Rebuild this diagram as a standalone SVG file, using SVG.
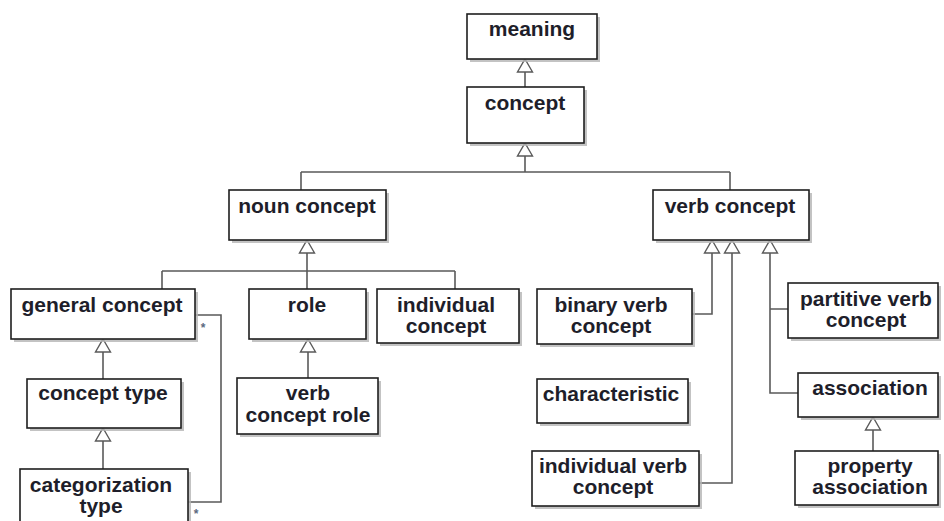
<svg xmlns="http://www.w3.org/2000/svg" width="944" height="521" viewBox="0 0 944 521">
  <style>
    .shadow { fill: #b4b4b4; opacity: 0.8; }
    .box { fill: #ffffff; stroke: #1e1e1e; stroke-width: 1.6; }
    .label { font-family: "Liberation Sans", Arial, sans-serif; font-weight: bold; font-size: 21px; fill: #1e1e2a; text-anchor: middle; }
    .conn { fill: none; stroke: #5a5a5a; stroke-width: 1.6; }
    .tri { fill: #ffffff; stroke: #5a5a5a; stroke-width: 1.4; stroke-linejoin: miter; }
    .mult { font-family: "Liberation Sans", Arial, sans-serif; font-size: 12px; font-weight: bold; fill: #5a6a80; text-anchor: middle; }
  </style>
  <defs>
    <!-- hollow generalization head, tip at origin pointing up -->
    <path id="gen" class="tri" d="M0,0 L7.5,13 L-7.5,13 Z"/>
  </defs>

  <rect x="0" y="0" width="944" height="521" fill="#ffffff"/>

  <!-- connectors -->
  <g id="connectors">
    <path class="conn" d="M525,87 V72"/>
    <path class="conn" d="M525,156 V172 M301,172 H730 M301,172 V190 M730,172 V190"/>
    <path class="conn" d="M307,253 V289 M162,271 H455 M162,271 V289 M455,271 V289"/>
    <path class="conn" d="M103,352 V379"/>
    <path class="conn" d="M103,441 V469"/>
    <path class="conn" d="M308,352 V378"/>
    <path class="conn" d="M712,253 V314 H692"/>
    <path class="conn" d="M732,253 V483 H699"/>
    <path class="conn" d="M770,253 V393 H798 M770,309 H788"/>
    <path class="conn" d="M873,430 V451"/>
    <path class="conn" d="M195,315 H221 V502 H188"/>
    <use href="#gen" x="525" y="59"/>
    <use href="#gen" x="525" y="143"/>
    <use href="#gen" x="307" y="240"/>
    <use href="#gen" x="103" y="339"/>
    <use href="#gen" x="103" y="428"/>
    <use href="#gen" x="308" y="339"/>
    <use href="#gen" x="712" y="240"/>
    <use href="#gen" x="732" y="240"/>
    <use href="#gen" x="770" y="240"/>
    <use href="#gen" x="873" y="417"/>
    <text class="mult" x="203" y="332">*</text>
    <text class="mult" x="196" y="518">*</text>
  </g>

  <g id="meaning">
    <rect class="shadow" x="470" y="17" width="130" height="45"/>
    <rect class="box" x="467" y="14" width="130" height="45"/>
    <text class="label" x="532" y="36">meaning</text>
  </g>

  <g id="concept">
    <rect class="shadow" x="470" y="90" width="117" height="56"/>
    <rect class="box" x="467" y="87" width="117" height="56"/>
    <text class="label" x="525" y="110">concept</text>
  </g>

  <g id="noun-concept">
    <rect class="shadow" x="232" y="193" width="157" height="50"/>
    <rect class="box" x="229" y="190" width="157" height="50"/>
    <text class="label" x="307" y="213">noun concept</text>
  </g>

  <g id="verb-concept">
    <rect class="shadow" x="656" y="193" width="156" height="50"/>
    <rect class="box" x="653" y="190" width="156" height="50"/>
    <text class="label" x="730" y="213">verb concept</text>
  </g>

  <g id="general-concept">
    <rect class="shadow" x="14" y="292" width="184" height="50"/>
    <rect class="box" x="11" y="289" width="184" height="50"/>
    <text class="label" x="102" y="312">general concept</text>
  </g>

  <g id="role">
    <rect class="shadow" x="252" y="292" width="117" height="50"/>
    <rect class="box" x="249" y="289" width="117" height="50"/>
    <text class="label" x="307" y="312">role</text>
  </g>

  <g id="individual-concept">
    <rect class="shadow" x="380" y="292" width="142" height="54"/>
    <rect class="box" x="377" y="289" width="142" height="54"/>
    <text class="label" x="446" y="312">individual</text>
    <text class="label" x="446" y="333">concept</text>
  </g>

  <g id="concept-type">
    <rect class="shadow" x="30" y="382" width="154" height="49"/>
    <rect class="box" x="27" y="379" width="154" height="49"/>
    <text class="label" x="103" y="400">concept type</text>
  </g>

  <g id="verb-concept-role">
    <rect class="shadow" x="240" y="381" width="141" height="56"/>
    <rect class="box" x="237" y="378" width="141" height="56"/>
    <text class="label" x="308" y="400">verb</text>
    <text class="label" x="308" y="422">concept role</text>
  </g>

  <g id="categorization-type">
    <rect class="shadow" x="23" y="472" width="168" height="60"/>
    <rect class="box" x="20" y="469" width="168" height="60"/>
    <text class="label" x="101" y="492">categorization</text>
    <text class="label" x="101" y="513">type</text>
  </g>

  <g id="binary-verb-concept">
    <rect class="shadow" x="540" y="292" width="155" height="55"/>
    <rect class="box" x="537" y="289" width="155" height="55"/>
    <text class="label" x="611" y="312">binary verb</text>
    <text class="label" x="611" y="333">concept</text>
  </g>

  <g id="characteristic">
    <rect class="shadow" x="540" y="382" width="151" height="44"/>
    <rect class="box" x="537" y="379" width="151" height="44"/>
    <text class="label" x="611" y="401">characteristic</text>
  </g>

  <g id="individual-verb-concept">
    <rect class="shadow" x="535" y="454" width="167" height="55"/>
    <rect class="box" x="532" y="451" width="167" height="55"/>
    <text class="label" x="613" y="473">individual verb</text>
    <text class="label" x="613" y="494">concept</text>
  </g>

  <g id="partitive-verb-concept">
    <rect class="shadow" x="791" y="286" width="150" height="55"/>
    <rect class="box" x="788" y="283" width="150" height="55"/>
    <text class="label" x="866" y="306">partitive verb</text>
    <text class="label" x="866" y="327">concept</text>
  </g>

  <g id="association">
    <rect class="shadow" x="801" y="376" width="140" height="44"/>
    <rect class="box" x="798" y="373" width="140" height="44"/>
    <text class="label" x="870" y="395">association</text>
  </g>

  <g id="property-association">
    <rect class="shadow" x="798" y="454" width="143" height="54"/>
    <rect class="box" x="795" y="451" width="143" height="54"/>
    <text class="label" x="870" y="473">property</text>
    <text class="label" x="870" y="494">association</text>
  </g>
</svg>
